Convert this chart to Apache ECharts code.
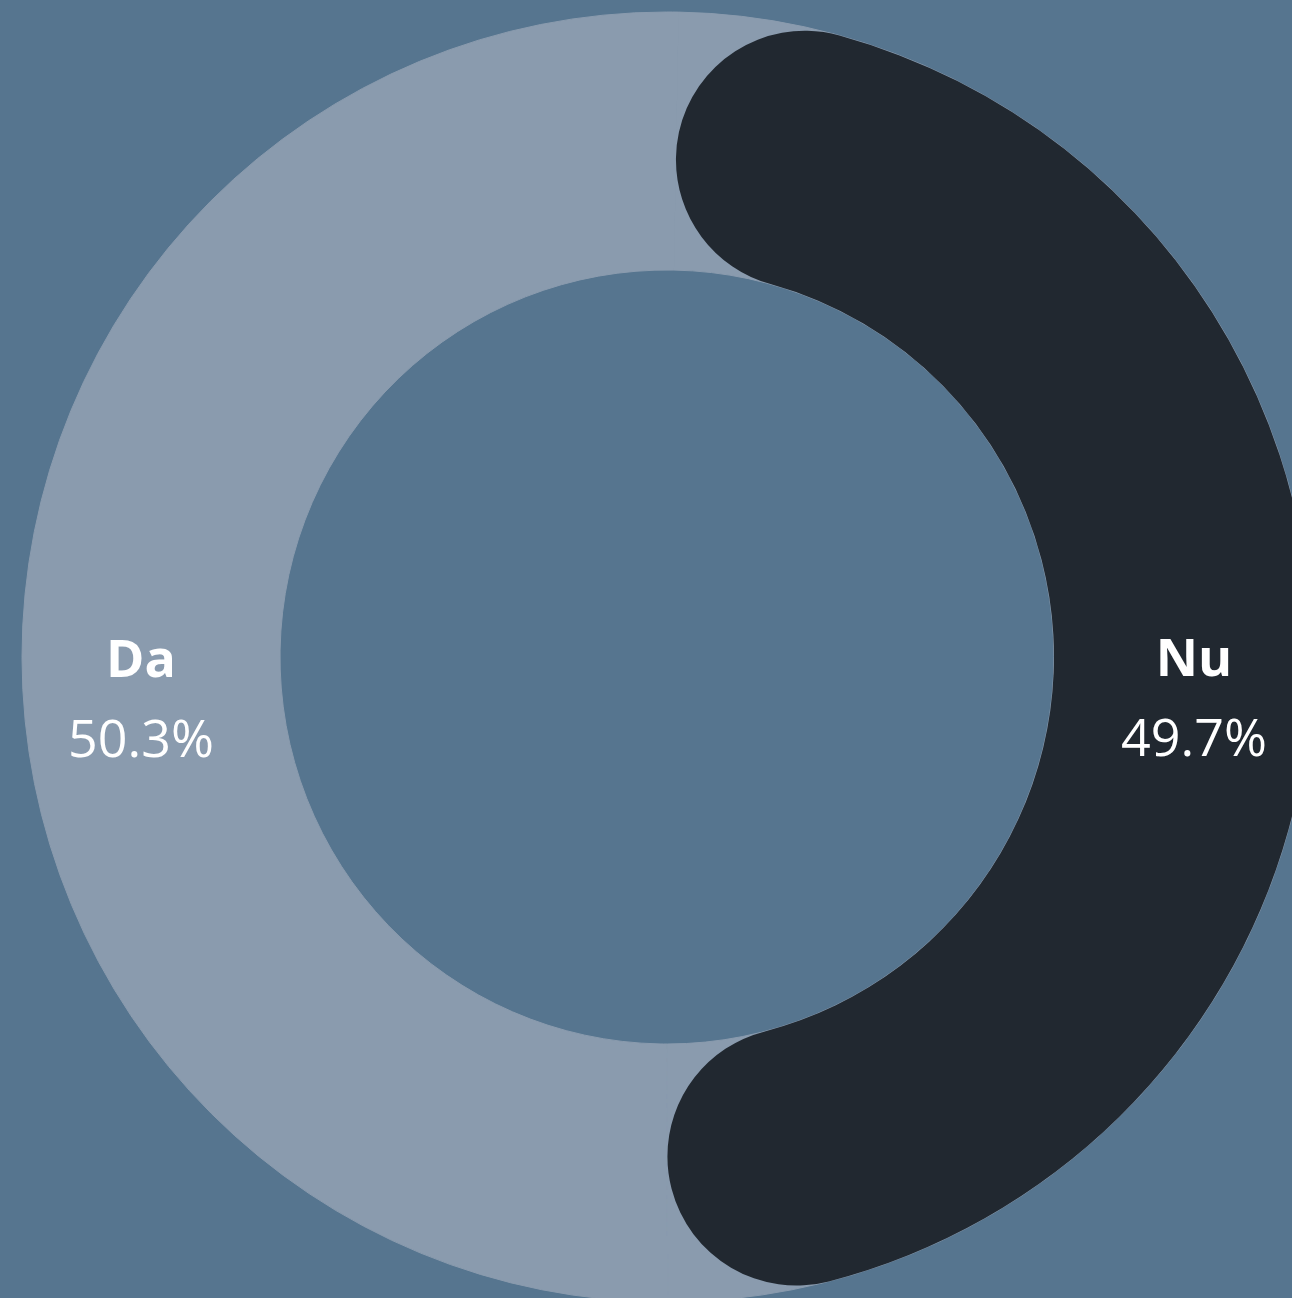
<!DOCTYPE html>
<html>
<head>
<meta charset="utf-8">
<style>
  html, body { margin: 0; padding: 0; background: #56758f; }
  #chart { width: 1292px; height: 1298px; }
</style>
<script src="https://cdn.jsdelivr.net/npm/echarts@6/dist/echarts.min.js"></script>
</head>
<body>
<div id="chart"></div>
<script>
  // slices, in drawing order
  var names = ['Da', 'Nu'];
  var values = [50.3, 49.7];
  var colors = ['#8a9bae', '#212830'];

  var chart = echarts.init(document.getElementById('chart'));

  // light ring underneath so the rounded ends sit on it
  var ringData = names.map(function (n, i) {
    return {
      name: n,
      value: values[i],
      itemStyle: { color: colors[0], borderColor: colors[0], borderWidth: 1 }
    };
  });
  var mainData = names.map(function (n, i) {
    return {
      name: n,
      value: values[i],
      itemStyle: i == 1
        ? { color: colors[1], borderRadius: 200 }
        : { color: 'transparent' }
    };
  });

  chart.setOption({
    backgroundColor: '#56758f',
    animation: false,
    series: [
      {
        type: 'pie',
        silent: true,
        radius: [387, 645],
        center: [667, 657],
        startAngle: -89.95,
        label: { show: false },
        labelLine: { show: false },
        data: ringData
      },
      {
        type: 'pie',
        silent: true,
        radius: [387, 645],
        center: [667, 657],
        startAngle: -89.95,
        percentPrecision: 1,
        emphasis: { scale: false },
        label: {
          show: true,
          position: 'inside',
          formatter: '{n|{b}}\n{v|{d}%}',
          rich: {
            n: { fontFamily: 'Open Sans', fontSize: 52, fontWeight: 'bold', color: '#ffffff', lineHeight: 80 },
            v: { fontFamily: 'Open Sans', fontSize: 52, color: '#ffffff', lineHeight: 80 }
          }
        },
        labelLayout: function (p) {
          // keep both labels level, name on the middle line
          return p.dataIndex == 0 ? { dx: -7, dy: 50 } : { dx: 8, dy: 40 };
        },
        labelLine: { show: false },
        data: mainData
      }
    ]
  });
</script>
</body>
</html>
